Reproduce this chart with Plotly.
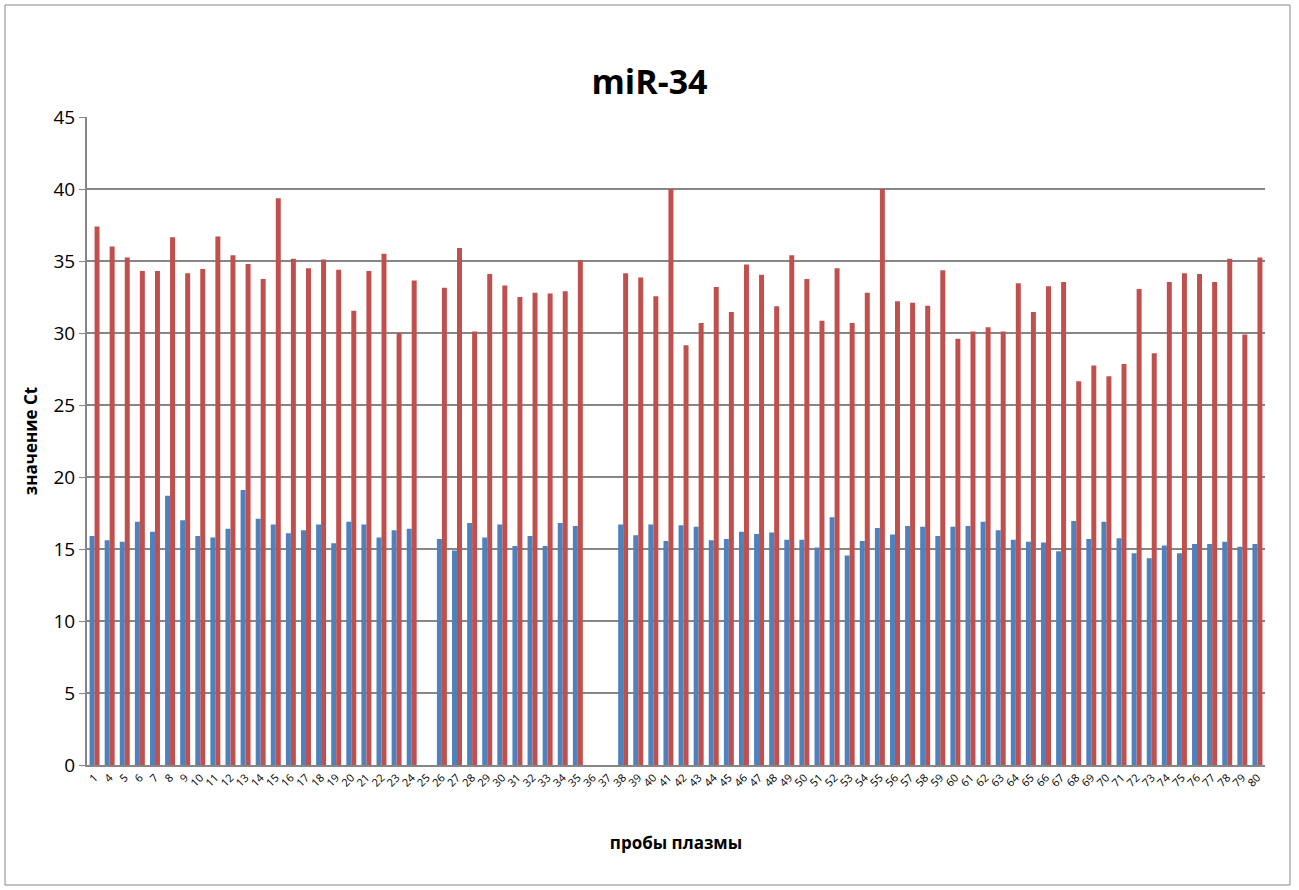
import plotly.graph_objects as go

categories = ["1"] + [str(i) for i in range(4, 81)]

blue_values = [
    15.9, 15.6, 15.5, 16.9, 16.2, 18.7, 17.0, 15.9, 15.8, 16.4,   # 1,4-12
    19.1, 17.1, 16.7, 16.1, 16.3, 16.7, 15.4, 16.9, 16.7, 15.8,   # 13-22
    16.3, 16.4, None, 15.7, 14.9, 16.8, 15.8, 16.7, 15.2, 15.9,   # 23-32
    15.2, 16.8, 16.6, None, None, 16.7, 15.95, 16.7, 15.55, 16.65, # 33-42
    16.55, 15.6, 15.7, 16.2, 16.05, 16.15, 15.65, 15.65, 15.1, 17.2, # 43-52
    14.55, 15.55, 16.45, 16.0, 16.6, 16.55, 15.9, 16.55, 16.6, 16.9, # 53-62
    16.3, 15.65, 15.5, 15.45, 14.85, 16.95, 15.7, 16.9, 15.75, 14.7, # 63-72
    14.35, 15.25, 14.7, 15.35, 15.35, 15.5, 15.15, 15.35,           # 73-80
]

red_values = [
    37.4, 36.0, 35.25, 34.3, 34.3, 36.65, 34.15, 34.45, 36.7, 35.4,  # 1,4-12
    34.8, 33.75, 39.35, 35.15, 34.5, 35.1, 34.4, 31.55, 34.3, 35.5,  # 13-22
    30.0, 33.65, None, 33.15, 35.9, 30.1, 34.1, 33.3, 32.5, 32.8,    # 23-32
    32.75, 32.9, 35.05, None, None, 34.15, 33.85, 32.55, 40.0, 29.15, # 33-42
    30.7, 33.2, 31.45, 34.75, 34.05, 31.85, 35.4, 33.75, 30.85, 34.5, # 43-52
    30.7, 32.8, 40.0, 32.2, 32.1, 31.9, 34.35, 29.6, 30.1, 30.4,     # 53-62
    30.1, 33.45, 31.45, 33.25, 33.55, 26.65, 27.75, 27.0, 27.85, 33.05, # 63-72
    28.6, 33.55, 34.15, 34.1, 33.55, 35.15, 29.9, 35.25,             # 73-80
]

y_ticks = [0, 5, 10, 15, 20, 25, 30, 35, 40, 45]

FONT = "Open Sans"

fig = go.Figure()
fig.add_trace(go.Bar(x=categories, y=blue_values, marker=dict(color="#4F81BD", line=dict(width=0)),
                     name="series1", showlegend=False))
fig.add_trace(go.Bar(x=categories, y=red_values, marker=dict(color="#C0504D", line=dict(width=0)),
                     name="series2", showlegend=False))

fig.update_layout(
    width=1299, height=890,
    margin=dict(l=87, r=34, t=117, b=125),
    paper_bgcolor="white", plot_bgcolor="white",
    barmode="group", bargap=0.34, bargroupgap=0.0,
    font=dict(family=FONT, color="black"),
    title=dict(text="<b>miR-34</b>", x=0.5, xanchor="center", y=1 - 82 / 890, yanchor="middle",
               font=dict(size=34, family=FONT)),
    xaxis=dict(type="category", tickangle=-45, tickfont=dict(size=11, family=FONT),
               showline=True, linecolor="#868686", linewidth=2, ticks="", showgrid=False,
               title=dict(text="<b>пробы плазмы</b>", font=dict(size=17, family=FONT), standoff=48)),
    yaxis=dict(range=[0, 45], tickvals=y_ticks, tickfont=dict(size=19, family=FONT),
               showgrid=True, gridcolor="#868686", gridwidth=2, zeroline=False,
               showline=True, linecolor="#868686", linewidth=2,
               ticks="outside", ticklen=6, tickcolor="#868686",
               title=dict(text="<b>значение Ct</b>", font=dict(size=17, family=FONT), standoff=12)),
    shapes=[dict(type="rect", xref="paper", yref="paper",
                 x0=-82 / 1178, x1=(1290 - 87) / 1178, y0=-(885 - 765) / 648, y1=(765 - 5) / 648,
                 line=dict(color="#868686", width=1), fillcolor="rgba(0,0,0,0)", layer="below")],
)

fig.write_html("out.html")
